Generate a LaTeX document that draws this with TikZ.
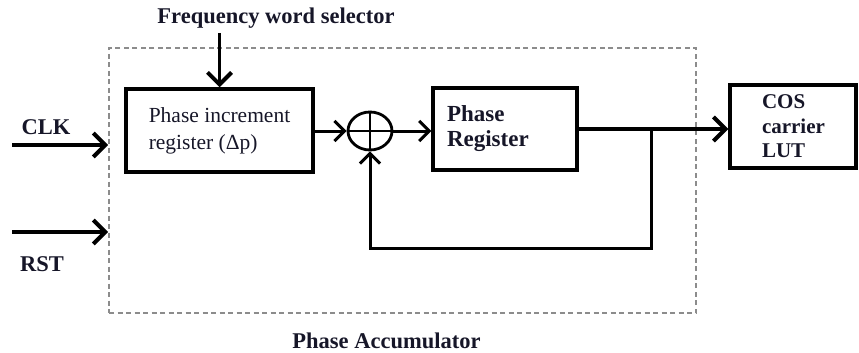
\documentclass[tikz,border=0pt]{standalone}
\usepackage{fontspec}
\setmainfont{Liberation Serif}
\usetikzlibrary{arrows.meta,shapes.geometric}
\definecolor{ink}{RGB}{22,22,40}
\definecolor{dashgray}{RGB}{140,140,140}
\begin{document}
\begin{tikzpicture}[x=1pt,y=-1pt,
  every node/.style={text=ink},
  lbl/.style={font=\fontsize{22.5}{26}\selectfont\bfseries, inner sep=0},
  blk/.style={draw=black, line width=3.5pt, align=left, inner ysep=0},
  wire/.style={line width=3pt},
  arr/.style={line width=3.8pt, -{Straight Barb[length=12pt,width=24pt,line width=4pt]}},
  sarr/.style={wire, -{Straight Barb[length=10pt,width=20pt,line width=3pt]}}]
\useasboundingbox (0,0) rectangle (859,353);

% phase accumulator outline
\node[draw=dashgray, line width=1.8pt, dash pattern=on 5pt off 3.5pt,
      minimum width=587pt, minimum height=265pt, inner sep=0] (acc) at (402.5,180.5) {};

% blocks
\node[blk, minimum width=187pt, minimum height=83pt, inner xsep=0,
      font=\fontsize{21.5}{27}\selectfont] (pir) at (219.5,130.5)
      {Phase increment\\register (Δp)};
\node[blk, minimum height=82pt, text width=116pt, inner xsep=14pt,
      font=\fontsize{23}{25}\selectfont\bfseries] (preg) at (505,129)
      {Phase\\Register};
\node[blk, minimum height=83pt, text width=62pt, inner xsep=32pt,
      font=\fontsize{21}{24.5}\selectfont\bfseries] (lut) at (793,126.5)
      {COS\\carrier\\LUT};

% adder
\node[draw=black, ellipse, line width=2.8pt, minimum width=44pt, minimum height=38pt, inner sep=0] (sum) at (370,131) {};
\draw[line width=2.5pt] (sum.north) -- (sum.south) (sum.west) -- (sum.east);

% labels
\node[lbl] (fws) at (276,18) {Frequency word selector};
\node[lbl] (clk) at (46,127) {CLK};
\node[lbl] (rst) at (42,264) {RST};
\node[lbl] (pacc) at (386.5,341) {Phase Accumulator};

% inputs
\coordinate (clkin) at (12,145);
\coordinate (rstin) at (12,232);
\draw[arr] (clkin) -- (clkin -| acc.west);
\draw[arr] (rstin) -- (rstin -| acc.west);
\draw[arr] (pir.north |- 0,33) -- (pir.north);

% data path
\draw[sarr] (pir.east |- sum.west) -- (sum.west);
\draw[sarr] (sum.east) -- (sum.east -| preg.west);
\draw[arr] (preg.east) -- (preg.east -| lut.west);

% feedback
\coordinate (tap) at (651,129);
\coordinate (fbr) at (651,248);
\draw[sarr] (tap) -- (fbr) -| (sum.south);
\end{tikzpicture}
\end{document}
